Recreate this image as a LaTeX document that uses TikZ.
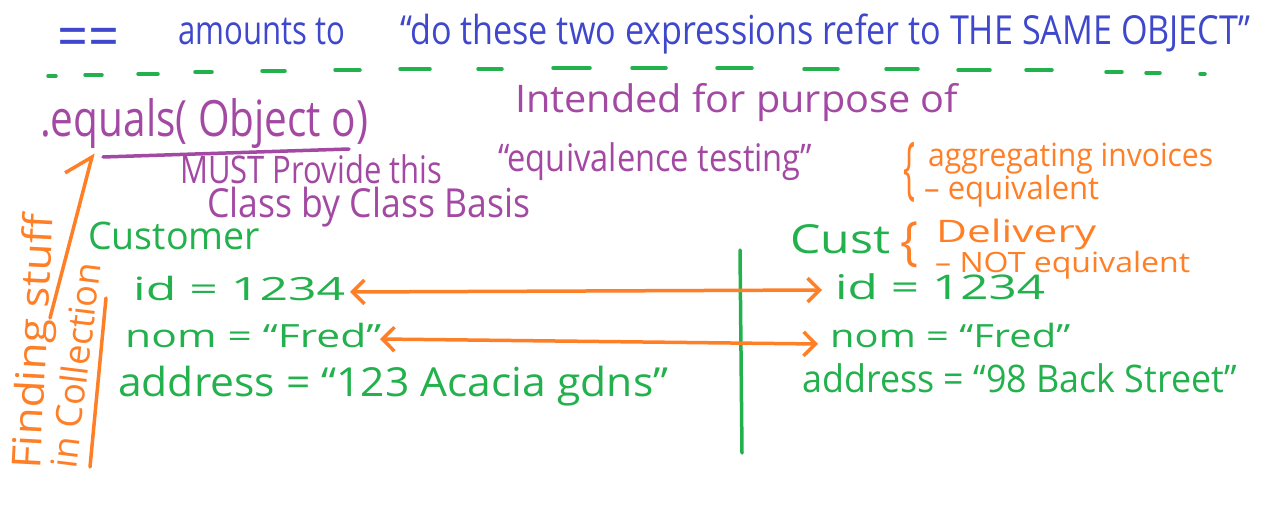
\documentclass[tikz,border=0pt]{standalone}
\usepackage{fontspec}
\setmainfont{Open Sans}
\usetikzlibrary{arrows.meta}
\definecolor{pblue}{RGB}{63,72,204}
\definecolor{pgreen}{RGB}{34,177,76}
\definecolor{porange}{RGB}{255,127,39}
\definecolor{ppurple}{RGB}{163,73,164}
% text of given width (pt) at given font size (pt): only horizontal scaling
\newcommand{\ft}[3]{\resizebox{#1pt}{\height}{\fontsize{#2pt}{#2pt}\selectfont #3}}
\newcommand{\brc}[2]{\resizebox*{#1pt}{#2pt}{\{}}
\begin{document}
\begin{tikzpicture}[x=1pt,y=-1pt,
  txt/.style={inner sep=0pt, anchor=base west},
  brc/.style={inner sep=0pt, anchor=north west, porange},
  stroke/.style={line width=3.5pt, line cap=round, line join=round},
  barbtip/.tip={Straight Barb[length=12pt,width=24pt,line width=3.5pt]},
  upbarb/.tip={Straight Barb[left,length=22pt,width=44pt,line width=3.5pt]}]
\useasboundingbox[fill=white] (0,0) rectangle (1270,508);

% title (blue)
\node[txt, pblue] (eqeq) at (57,58) {\ft{62}{60}{==}};
\node[txt, pblue] (amounts) at (178,45) {\ft{167}{40}{amounts to}};
\node[txt, pblue] (question) at (400,45) {\ft{850}{40}{“do these two expressions refer to THE SAME OBJECT”}};

% green separator dashes
\foreach \a/\b/\y in {48/56/76, 85/102/75, 138/158/74, 195/212/72, 262/285/71, 335/360/70, 400/430/69, 478/502/69, 553/590/68, 632/666/68, 717/752/68, 804/838/69, 886/918/69, 958/990/70, 1026/1052/70, 1106/1122/72, 1146/1160/73, 1200/1205/74}
  \draw[stroke, pgreen] (\a,\y) -- (\b,\y);

% purple texts
\node[txt, ppurple] (equals) at (40,137) {\ft{328}{50}{.equals( Object o)}};
\coordinate (ulA) at (103,157);
\coordinate (ulB) at (349,149);
\draw[stroke, ppurple] (ulA) -- (ulB);
\node[txt, ppurple] (intended) at (515,113) {\ft{443}{38}{Intended for purpose of}};
\node[txt, ppurple] (must) at (180,183) {\ft{262}{38}{MUST Provide this}};
\node[txt, ppurple] (equiv) at (498,172) {\ft{314}{38}{“equivalence testing”}};
\node[txt, ppurple] (class) at (207,218) {\ft{323}{40}{Class by Class Basis}};

% orange annotations top right
\node[brc] (brace1) at (903,142) {\brc{12}{60}};
\node[txt, porange] (aggr) at (928,167) {\ft{285}{32}{aggregating invoices}};
\node[txt, porange] (aequiv) at (924,200) {\ft{175}{32}{– equivalent}};
\node[brc] (brace2) at (900,222) {\brc{18}{46}};
\node[txt, porange] (deliv) at (936,243) {\ft{160}{31}{Delivery}};
\node[txt, porange] (notequiv) at (935,272) {\ft{255}{28}{– NOT equivalent}};

% green object left
\node[txt, pgreen] (cust) at (88,249) {\ft{172}{38}{Customer}};
\node[txt, pgreen] (idL) at (133,300) {\ft{212}{32}{id = 1234}};
\node[txt, pgreen] (nomL) at (125,347) {\ft{256}{32}{nom = “Fred”}};
\node[txt, pgreen] (addrL) at (118,396) {\ft{550}{40}{address = “123 Acacia gdns”}};

% green object right
\node[txt, pgreen] (custR) at (790,253) {\ft{100}{40}{Cust}};
\node[txt, pgreen] (idR) at (835,299) {\ft{210}{34}{id = 1234}};
\node[txt, pgreen] (nomR) at (830,347) {\ft{240}{32}{nom = “Fred”}};
\node[txt, pgreen] (addrR) at (802,392) {\ft{435}{38}{address = “98 Back Street”}};

% separating line
\coordinate (vTop) at (740,250);
\coordinate (vBot) at (742,453);
\draw[stroke, pgreen] (vTop) -- (vBot);

% comparison arrows
\coordinate (a1L) at (350,292);
\coordinate (a1R) at (822,290);
\coordinate (a2L) at (380,339);
\coordinate (a2R) at (818,344);
\draw[stroke, porange, barbtip-barbtip] (a1L) -- (a1R);
\draw[stroke, porange, barbtip-barbtip] (a2L) -- (a2R);

% left margin annotation
\node[txt, porange, rotate=87] (finding) at (40,470) {\ft{255}{40}{Finding stuff}};
\node[txt, porange, rotate=83] (incoll) at (76,470) {\ft{207}{36}{in Collection}};
\coordinate (upS) at (50,318);
\coordinate (upE) at (93,153);
\draw[stroke, porange, -upbarb] (upS) -- (upE);
\coordinate (bkT) at (106,298);
\coordinate (bkB) at (90,467);
\draw[stroke, porange] (bkT) -- (bkB);
\end{tikzpicture}
\end{document}
